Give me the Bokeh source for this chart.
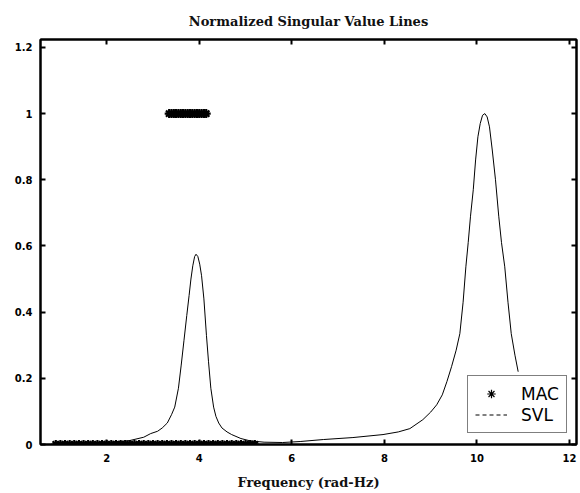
from bokeh.plotting import figure
from bokeh.models import (LinearAxis, FixedTicker, NumeralTickFormatter, Legend, LegendItem,
                          Range1d, CustomLabelingPolicy, CustomJSTickFormatter)
from bokeh.embed import file_html
from bokeh.resources import INLINE

# ---------------- data ----------------
svl_freq = [0.84, 1.2, 1.6, 2.0, 2.2, 2.5, 2.8, 2.95, 3.1, 3.2, 3.31, 3.4, 3.47, 3.55, 3.61,
            3.67, 3.73, 3.78, 3.82, 3.86, 3.9, 3.93, 3.97, 4.01, 4.05, 4.1, 4.155, 4.2,
            4.25, 4.31, 4.36, 4.42, 4.49, 4.6, 4.7, 4.9, 5.1, 5.4,
            5.8, 6.18, 6.68, 7.32, 7.97, 8.3, 8.55, 8.83, 9.0, 9.13, 9.25, 9.35, 9.45, 9.55,
            9.63, 9.7, 9.76, 9.81, 9.86, 9.92, 9.97, 10.02, 10.07, 10.12, 10.17, 10.22, 10.27,
            10.33, 10.4, 10.47, 10.53, 10.6, 10.67, 10.74, 10.82, 10.89]
svl_value = [0.003, 0.003, 0.004, 0.005, 0.008, 0.012, 0.022, 0.033, 0.04, 0.05, 0.065, 0.09,
             0.113, 0.17, 0.24, 0.315, 0.39, 0.45, 0.50, 0.54, 0.568, 0.575, 0.568, 0.545,
             0.51, 0.44, 0.33, 0.25, 0.17, 0.113, 0.085, 0.065, 0.05, 0.038, 0.03, 0.018,
             0.011, 0.007, 0.006, 0.009, 0.015, 0.021, 0.03, 0.038, 0.048, 0.075, 0.098,
             0.12, 0.15, 0.19, 0.235, 0.285, 0.335, 0.43, 0.537, 0.61, 0.69, 0.77, 0.86, 0.93,
             0.97, 0.995, 1.0, 0.99, 0.96, 0.89, 0.8, 0.69, 0.61, 0.537, 0.43, 0.335, 0.27,
             0.22]

mac_freq = [0.9, 1.0, 1.1, 1.2, 1.3, 1.4, 1.5, 1.6, 1.7, 1.8, 1.9, 2.0, 2.1, 2.2, 2.3, 2.4,
            2.5, 2.6, 2.7, 2.8, 2.9, 3.0, 3.1, 3.2, 3.3, 3.4, 3.5, 3.6, 3.7, 3.8, 3.9, 4.0,
            4.1, 4.2, 4.3, 4.4, 4.5, 4.6, 4.7, 4.8, 4.9, 5.0, 5.1, 5.2,
            3.35, 3.45, 3.55, 3.65, 3.75, 3.85, 3.95, 4.05, 4.15,
            3.4, 3.5, 3.6, 3.7, 3.8, 3.9, 4.0, 4.1]
mac_value = [0, 0, 0, 0, 0, 0, 0, 0, 0, 0, 0, 0, 0, 0, 0, 0,
             0, 0, 0, 0, 0, 0, 0, 0, 0, 0, 0, 0, 0, 0, 0, 0,
             0, 0, 0, 0, 0, 0, 0, 0, 0, 0, 0, 0,
             1, 1, 1, 1, 1, 1, 1, 1, 1,
             1, 1, 1, 1, 1, 1, 1, 1]

x_ticks = [2, 4, 6, 8, 10, 12]
y_ticks = [0, 0.2, 0.4, 0.6, 0.8, 1, 1.2]

# ---------------- figure ----------------
p = figure(width=580, height=493, output_backend="svg", toolbar_location=None,
           x_range=Range1d(0.57, 12.15), y_range=Range1d(0, 1.224),
           min_border_left=40, min_border_right=4, min_border_top=39, min_border_bottom=49,
           title="Normalized Singular Value Lines")
p.background_fill_color = "white"
p.border_fill_color = "white"
p.outline_line_color = "black"
p.outline_line_width = 2
p.grid.visible = False

p.title.align = "center"
p.title.text_font = "DejaVu Serif"
p.title.text_font_size = "13px"
p.title.text_font_style = "bold"
p.title.text_color = "#111111"
p.title.standoff = 21

def style_axis(ax, labels=True):
    ax.axis_line_color = "black"
    ax.axis_line_width = 2
    ax.major_tick_in = 5
    ax.major_tick_out = 0
    ax.major_tick_line_width = 2
    ax.minor_tick_line_color = None
    if labels:
        ax.major_label_text_font = "DejaVu Sans"
        ax.major_label_text_font_size = "10px"
        ax.major_label_text_font_style = "bold"
        ax.major_label_text_color = "black"
    else:
        # mirrored tick marks only: no labels at all
        ax.formatter = CustomJSTickFormatter(code="return ''")
        ax.major_label_policy = CustomLabelingPolicy(code="return new Set()")
        ax.major_label_text_font_size = "0px"
        ax.major_label_standoff = 0

xa = p.xaxis[0]
xa.ticker = FixedTicker(ticks=x_ticks)
style_axis(xa)
xa.major_label_standoff = 9
xa.axis_label = "Frequency (rad-Hz)"
xa.axis_label_text_font = "DejaVu Serif"
xa.axis_label_text_font_size = "13px"
xa.axis_label_text_font_style = "bold"
xa.axis_label_text_color = "#111111"
xa.axis_label_standoff = 10

ya = p.yaxis[0]
ya.ticker = FixedTicker(ticks=y_ticks)
ya.formatter = NumeralTickFormatter(format="0.[0]")
style_axis(ya)
ya.major_label_standoff = 8

top = LinearAxis(ticker=FixedTicker(ticks=x_ticks))
style_axis(top, labels=False)
p.add_layout(top, "above")
right = LinearAxis(ticker=FixedTicker(ticks=y_ticks))
style_axis(right, labels=False)
p.add_layout(right, "right")

# ---------------- glyphs ----------------
svl = p.line(svl_freq, svl_value, line_color="black", line_width=1)
mac = p.scatter(mac_freq, mac_value, marker="asterisk", size=9,
                line_color="black", line_width=2.2)

# legend proxies (not drawn in the plot area: NaN data)
nan = float("nan")
mac_leg = p.scatter([nan], [nan], marker="asterisk", size=8, line_color="black", line_width=1.2)
svl_leg = p.line([nan, nan], [nan, nan], line_color="black", line_width=1, line_dash="4 3")

legend = Legend(items=[LegendItem(label="MAC", renderers=[mac_leg]),
                       LegendItem(label="SVL", renderers=[svl_leg])],
                location=(427, 11))
legend.label_text_font = "DejaVu Sans"
legend.label_text_font_size = "17px"
legend.label_text_color = "black"
legend.border_line_color = "black"
legend.border_line_width = 1
legend.background_fill_color = "white"
legend.background_fill_alpha = 1
legend.glyph_width = 32
legend.glyph_height = 21
legend.label_height = 21
legend.label_standoff = 14
legend.padding = 7
legend.spacing = 0
legend.margin = 0
p.add_layout(legend, "center")

open("out.html", "w").write(file_html(p, INLINE))
